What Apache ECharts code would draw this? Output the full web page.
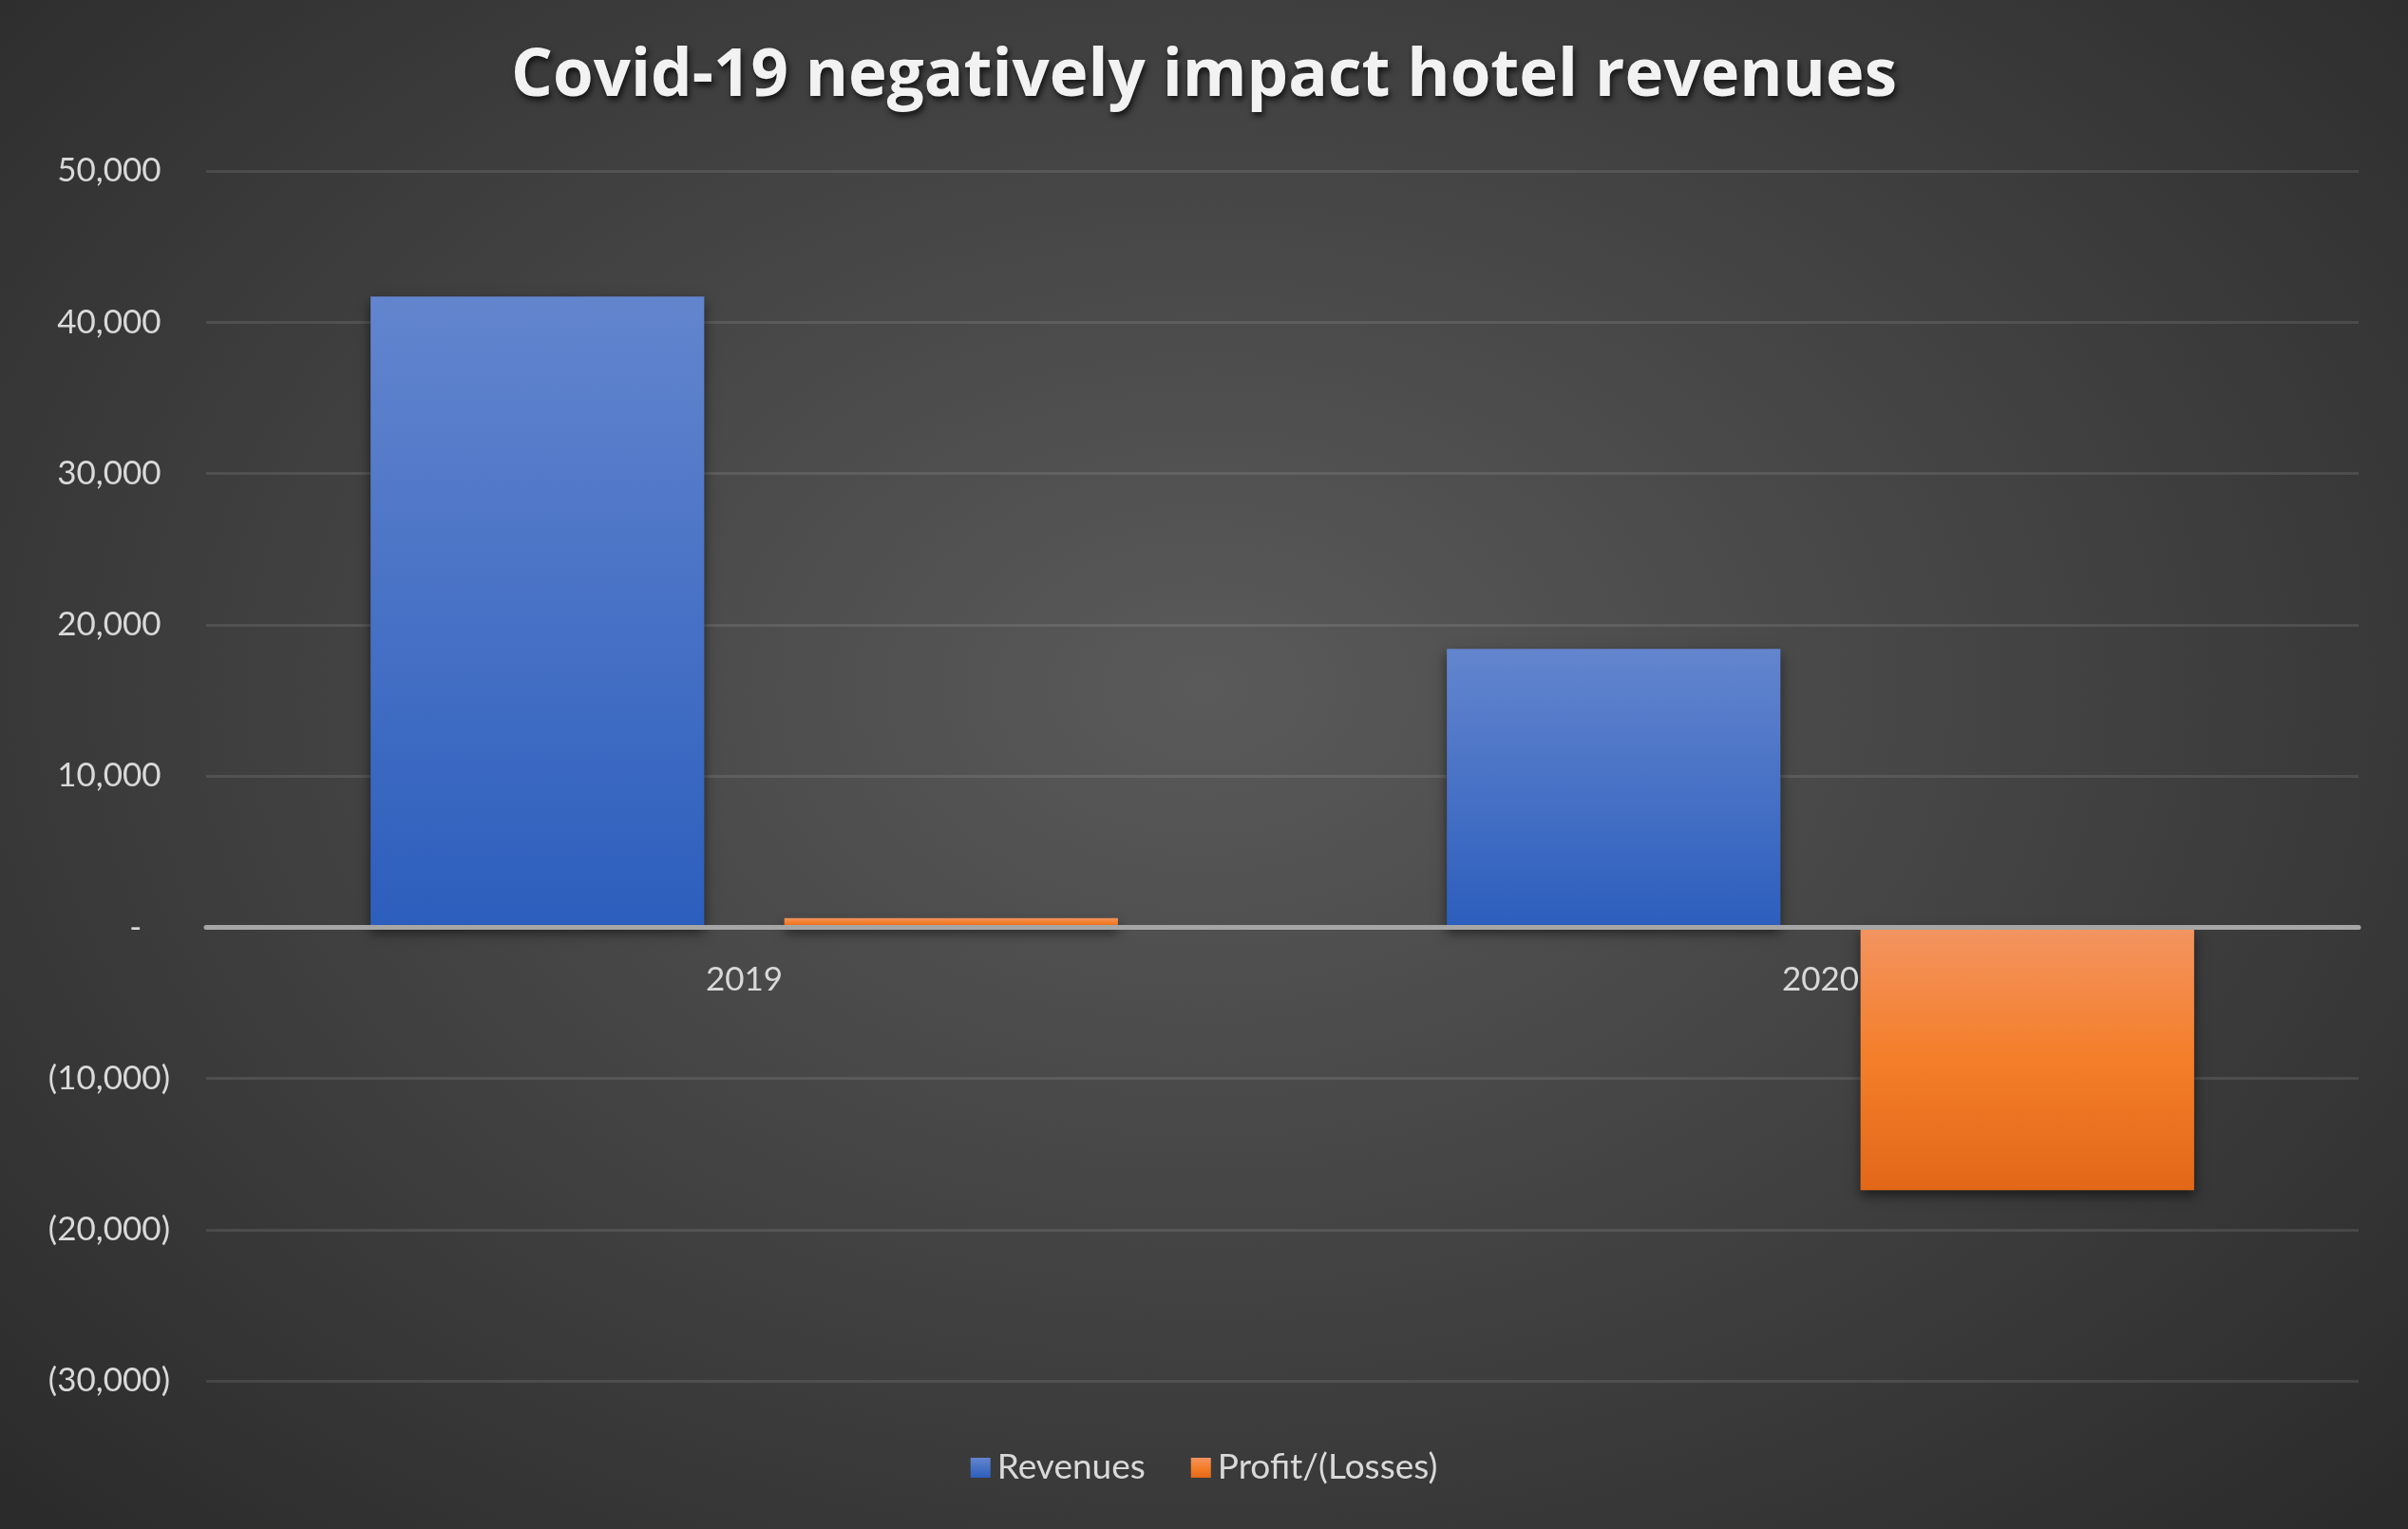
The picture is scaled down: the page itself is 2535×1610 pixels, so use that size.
<!DOCTYPE html>
<html>
<head>
<meta charset="utf-8">
<script src="https://cdn.jsdelivr.net/npm/echarts@6/dist/echarts.min.js"></script>
<style>
  html, body { margin: 0; padding: 0; }
  #chart {
    width: 2535px;
    height: 1610px;
    background: radial-gradient(ellipse at 50% 45%, #5a5a5a 0%, #474747 40%, #2a2a2a 100%);
  }
</style>
</head>
<body>
<div id="chart"></div>
<script>
const years = ['2019', '2020'];
const revenues = [41700, 18400];
const profits = [600, -17400];
const yMin = -30000;
const yMax = 50000;

const fmt = (v) => {
  if (v === 0) return '{n|-}{p|0)}';
  const s = Math.abs(v).toLocaleString('en-US');
  return v < 0 ? '{n|(' + s + ')}' : '{n|' + s + '}{p|)}';
};

// grid geometry, the category axis sits on the zero line
const gridTop = 180;
const gridBottom = 156;
const plotH = 1610 - gridTop - gridBottom;
const zeroOffset = -Math.round(plotH * (0 - yMin) / (yMax - yMin));

const chartDom = document.getElementById('chart');
const myChart = echarts.init(chartDom);
const option = {
  animation: false,
  title: {
    text: 'Covid-19 negatively impact hotel revenues',
    left: 'center',
    top: 42,
    textStyle: {
      color: '#f2f2f2',
      fontFamily: 'Open Sans',
      fontWeight: 'bold',
      fontSize: 69,
      textShadowColor: 'rgba(0,0,0,0.7)',
      textShadowBlur: 6,
      textShadowOffsetX: 2,
      textShadowOffsetY: 4
    }
  },
  grid: {
    left: 217,
    right: 52,
    top: gridTop,
    bottom: gridBottom
  },
  legend: {
    bottom: 41,
    left: 'center',
    itemWidth: 21,
    itemHeight: 21,
    itemGap: 48,
    icon: 'rect',
    textStyle: { color: '#d9d9d9', fontFamily: 'Lato', fontSize: 37, padding: [0, 0, 0, 2] },
    data: ['Revenues', 'Profit/(Losses)']
  },
  xAxis: {
    type: 'category',
    data: years,
    offset: zeroOffset,
    axisLine: { onZero: false, lineStyle: { color: '#a6a6a6', width: 5 } },
    axisTick: { show: false },
    axisLabel: { color: '#d9d9d9', fontFamily: 'Lato', fontSize: 35, margin: 38 },
    z: 3
  },
  yAxis: {
    type: 'value',
    min: yMin,
    max: yMax,
    interval: 10000,
    axisLine: { show: false },
    axisTick: { show: false },
    splitLine: { lineStyle: { color: 'rgba(255,255,255,0.1)', width: 3 } },
    axisLabel: {
      margin: 38,
      formatter: fmt,
      rich: {
        n: { color: '#d9d9d9', fontFamily: 'Lato', fontSize: 35 },
        p: { color: 'transparent', fontFamily: 'Lato', fontSize: 35 }
      }
    }
  },
  series: [
    {
      name: 'Revenues',
      type: 'bar',
      data: revenues,
      barWidth: '31%',
      barGap: '24%',
      itemStyle: {
        color: new echarts.graphic.LinearGradient(0, 0, 0, 1, [
          { offset: 0, color: '#6385ce' },
          { offset: 1, color: '#2c5ebd' }
        ]),
        shadowColor: 'rgba(0,0,0,0.55)',
        shadowBlur: 12,
        shadowOffsetY: 6
      }
    },
    {
      name: 'Profit/(Losses)',
      type: 'bar',
      data: profits,
      barWidth: '31%',
      barGap: '24%',
      itemStyle: {
        color: new echarts.graphic.LinearGradient(0, 0, 0, 1, [
          { offset: 0, color: '#f39461' },
          { offset: 0.5, color: '#f47e29' },
          { offset: 1, color: '#e26818' }
        ]),
        shadowColor: 'rgba(0,0,0,0.55)',
        shadowBlur: 12,
        shadowOffsetY: 6
      }
    }
  ]
};
myChart.setOption(option);
</script>
</body>
</html>
